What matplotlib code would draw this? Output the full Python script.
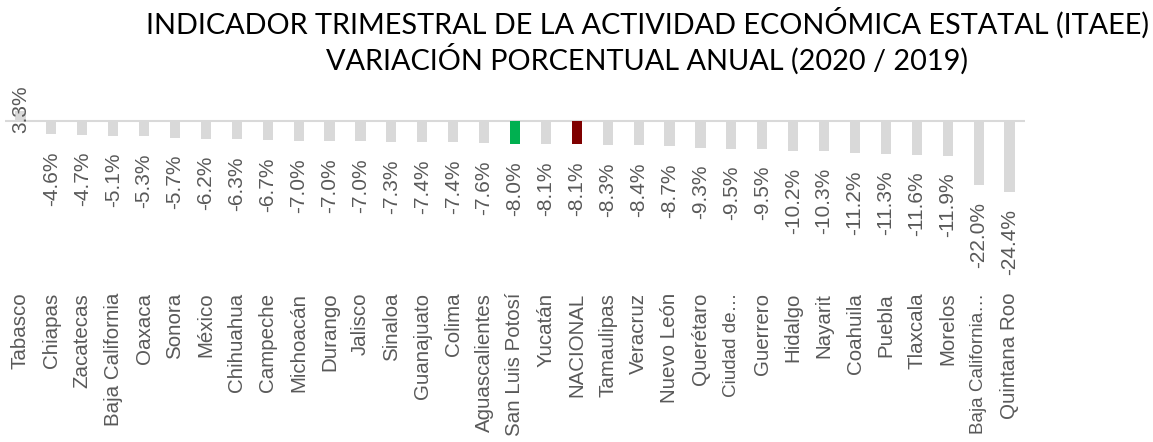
import numpy as np
import matplotlib.pyplot as plt

estados = ['Tabasco', 'Chiapas', 'Zacatecas', 'Baja California', 'Oaxaca', 'Sonora',
           'México', 'Chihuahua', 'Campeche', 'Michoacán', 'Durango', 'Jalisco',
           'Sinaloa', 'Guanajuato', 'Colima', 'Aguascalientes', 'San Luis Potosí',
           'Yucatán', 'NACIONAL', 'Tamaulipas', 'Veracruz', 'Nuevo León', 'Querétaro',
           'Ciudad de…', 'Guerrero', 'Hidalgo', 'Nayarit', 'Coahuila', 'Puebla',
           'Tlaxcala', 'Morelos', 'Baja California…', 'Quintana Roo']
variacion = [3.3, -4.6, -4.7, -5.1, -5.3, -5.7, -6.2, -6.3, -6.7, -7.0, -7.0, -7.0,
             -7.3, -7.4, -7.4, -7.6, -8.0, -8.1, -8.1, -8.3, -8.4, -8.7, -9.3,
             -9.5, -9.5, -10.2, -10.3, -11.2, -11.3, -11.6, -11.9, -22.0, -24.4]

gris = '#D9D9D9'
texto = '#595959'
colores = [gris] * len(estados)
colores[estados.index('San Luis Potosí')] = '#00B050'
colores[estados.index('NACIONAL')] = '#7F0000'

fig = plt.figure(figsize=(11.53, 4.42), dpi=100)
ax = fig.add_axes([5/1153, 1 - 290/442, 1020/1153, 190/442])

x = np.arange(len(estados))
ax.bar(x, variacion, width=0.33, color=colores, zorder=2)
ax.axhline(0, color=gris, lw=1.5, zorder=1)
ax.set_xlim(-0.5, len(estados) - 0.5)
ax.set_ylim(-(290 - 121) / 2.9, (121 - 100) / 2.9)

for xi, v in zip(x, variacion):
    if v < 0:
        ax.annotate('{:.1f}%'.format(v), (xi, v), xytext=(0, -17), textcoords='offset pixels',
                    rotation=90, ha='center', va='top', fontsize=15, color=texto,
                    family='Liberation Sans')
    else:
        ax.annotate('{:.1f}%'.format(v), (xi, v), xytext=(0, -22), textcoords='offset pixels',
                    rotation=90, ha='center', va='bottom', fontsize=15, color=texto,
                    family='Liberation Sans', zorder=3)

ax.set_xticks(x)
ax.set_xticklabels(estados, rotation=90, fontsize=14.8, color=texto, family='Liberation Sans',
                   va='top')
# etiquetas recortadas un poco mas chicas para que quepan
for lbl in ax.get_xticklabels():
    if lbl.get_text().endswith('…'):
        lbl.set_fontsize(13.6)
ax.tick_params(axis='x', length=0, pad=2)
ax.set_yticks([])
for s in ax.spines.values():
    s.set_visible(False)

fig.text(647/1153, 1 - 7/442, 'INDICADOR TRIMESTRAL DE LA ACTIVIDAD ECONÓMICA ESTATAL (ITAEE)\n'
         'VARIACIÓN PORCENTUAL ANUAL (2020 / 2019)', ha='center', va='top',
         fontsize=20.8, family='Lato', color='black', linespacing=1.2)

fig.savefig('out.png', dpi=100)
